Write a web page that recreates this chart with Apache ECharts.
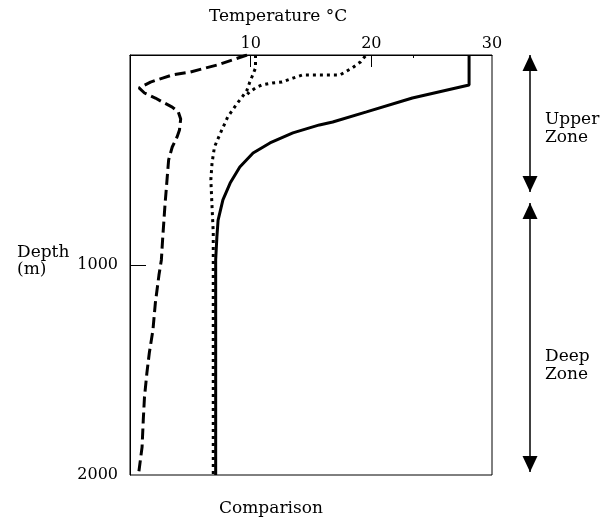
<!DOCTYPE html>
<html><head><meta charset="utf-8">
<script src="https://cdn.jsdelivr.net/npm/echarts@6/dist/echarts.min.js"></script>
<style>html,body{margin:0;padding:0;background:#fff}#c{width:609px;height:522px}</style>
</head><body><div id="c"></div>
<script>
// Axis ticks
const tempLabels = [10, 20, 30];
const tempTicks = [10, 20];
const tempMinorTicks = [23.5];
const depthLabels = [1000, 2000];
const depthTicks = [1000];

// Solid profile
const solidTemp  = [28.1, 28.1, 23.4, 19.6, 16.8, 15.7, 13.5, 11.6, 10.2, 9.1, 8.3, 7.7, 7.3, 7.2, 7.1, 7.1];
const solidDepth = [0, 143, 205, 271, 319, 333, 371, 419, 467, 533, 610, 690, 786, 867, 976, 2000];

// Dotted profile (from 10 °C)
const dotTemp  = [10.4, 10.4, 10.1, 9.9, 9.7, 9.3, 8.9, 8.5, 8.1, 7.5, 7.0, 6.8, 6.7, 6.8, 6.9, 6.9];
const dotDepth = [0, 62, 105, 133, 167, 200, 229, 262, 295, 371, 438, 514, 595, 724, 848, 2000];

// Dotted branch (from 20 °C)
const dot2Temp  = [19.5, 19.1, 18.4, 17.4, 15.5, 14.3, 13.5, 12.6, 11.8, 10.9, 10.4, 9.9, 9.6];
const dot2Depth = [5, 33, 62, 95, 95, 95, 110, 129, 133, 143, 157, 176, 195];

// Dashed profile
const dashTemp  = [9.7, 7.2, 5.0, 3.5, 2.7, 1.7, 0.75, 1.2, 2.1, 2.7, 3.5, 4.0, 4.2, 4.1, 3.9, 3.5, 3.2, 3.1, 3.0, 2.9, 2.7, 2.6, 2.4, 2.1, 1.9, 1.6, 1.4, 1.2, 1.1, 1.0, 0.7];
const dashDepth = [0, 48, 81, 95, 110, 129, 157, 181, 205, 224, 248, 271, 305, 357, 390, 438, 500, 571, 643, 714, 881, 976, 1048, 1181, 1310, 1419, 1514, 1629, 1738, 1867, 2000];

// Zones
const zoneNames = ['Upper\nZone', 'Deep\nZone'];
const zoneRanges = [[0, 652], [705, 1986]];
const zoneLabelDepth = [352, 1481];

const zip = (a, b) => a.map((v, i) => [v, b[i]]);
const serif = 'DejaVu Serif';
const txt = {fontFamily: serif, fontSize: 17, fontWeight: 'normal', color: '#000'};

const zoneSeries = zoneRanges.map((r, i) => ({
  type: 'line', name: 'zone' + i, xAxisIndex: 2, yAxisIndex: 1,
  symbol: 'triangle', symbolSize: [15, 16], showSymbol: true, silent: true,
  itemStyle: {color: '#000', opacity: 1},
  lineStyle: {color: '#000', width: 1.5},
  data: [
    {value: [1, r[0]], symbolRotate: 0, symbolOffset: [0, 8]},
    {value: [1, r[1]], symbolRotate: 180, symbolOffset: [0, -8]}
  ]
}));

const chart = echarts.init(document.getElementById('c'), null, {renderer: 'canvas'});
chart.setOption({
  animation: false,
  backgroundColor: '#fff',
  textStyle: {fontFamily: serif, color: '#000'},
  title: [
    {text: 'Temperature °C', left: 209, top: 8, padding: 0, textStyle: txt},
    {text: 'Depth\n(m)', left: 17, top: 244, padding: 0, textStyle: Object.assign({lineHeight: 17}, txt)},
    {text: 'Comparison', left: 219, top: 500, padding: 0, textStyle: txt}
  ],
  grid: [
    {left: 130, top: 55, right: 117, bottom: 47, show: true, borderColor: '#000', borderWidth: 1, backgroundColor: 'transparent'},
    {left: 520, top: 55, width: 20, bottom: 47, show: false}
  ],
  xAxis: [
    {type: 'value', gridIndex: 0, position: 'top', min: 0, max: 30,
     axisLine: {show: true, lineStyle: {color: '#000', width: 1}},
     axisTick: {show: true, inside: true, length: 12, customValues: tempTicks, lineStyle: {color: '#000', width: 1}},
     axisLabel: {show: true, customValues: tempLabels, margin: 3, fontFamily: serif, fontSize: 16, color: '#000'},
     splitLine: {show: false}},
    {type: 'value', gridIndex: 0, position: 'top', offset: 0, min: 0, max: 30,
     axisLine: {show: false},
     axisTick: {show: true, inside: true, length: 3, customValues: tempMinorTicks, lineStyle: {color: '#000', width: 1}},
     axisLabel: {show: false}, splitLine: {show: false}},
    {type: 'value', gridIndex: 1, min: 0, max: 2, show: false}
  ],
  yAxis: [
    {type: 'value', gridIndex: 0, inverse: true, min: 0, max: 2000,
     axisLine: {show: true, lineStyle: {color: '#000', width: 1}},
     axisTick: {show: true, inside: true, length: 16, customValues: depthTicks, lineStyle: {color: '#000', width: 1}},
     axisLabel: {show: true, customValues: depthLabels, margin: 12, fontFamily: serif, fontSize: 16, color: '#000',
       formatter: v => String(v)},
     splitLine: {show: false}},
    {type: 'value', gridIndex: 1, inverse: true, min: 0, max: 2000, show: false}
  ],
  series: [
    {type: 'line', name: 'solid', xAxisIndex: 0, yAxisIndex: 0, data: zip(solidTemp, solidDepth),
     showSymbol: false, lineStyle: {color: '#000', width: 3}},
    {type: 'line', name: 'dotted', xAxisIndex: 0, yAxisIndex: 0, data: zip(dotTemp, dotDepth),
     showSymbol: false, lineStyle: {color: '#000', width: 3, type: [3, 4]}},
    {type: 'line', name: 'dotted2', xAxisIndex: 0, yAxisIndex: 0, data: zip(dot2Temp, dot2Depth),
     showSymbol: false, lineStyle: {color: '#000', width: 3, type: [3, 4]}},
    {type: 'line', name: 'dashed', xAxisIndex: 0, yAxisIndex: 0, data: zip(dashTemp, dashDepth),
     showSymbol: false, lineStyle: {color: '#000', width: 3, type: [11, 5]}},
    ...zoneSeries,
    {type: 'scatter', name: 'zoneLabels', xAxisIndex: 2, yAxisIndex: 1, symbolSize: 0, silent: true,
     itemStyle: {opacity: 1, color: '#000'},
     data: zoneLabelDepth.map((d, i) => ({value: [1, d], name: zoneNames[i]})),
     label: {show: true, position: 'right', distance: 15, formatter: p => p.name,
       fontFamily: serif, fontSize: 17, color: '#000', lineHeight: 18, align: 'left'}}
  ]
});
</script>
</body></html>
